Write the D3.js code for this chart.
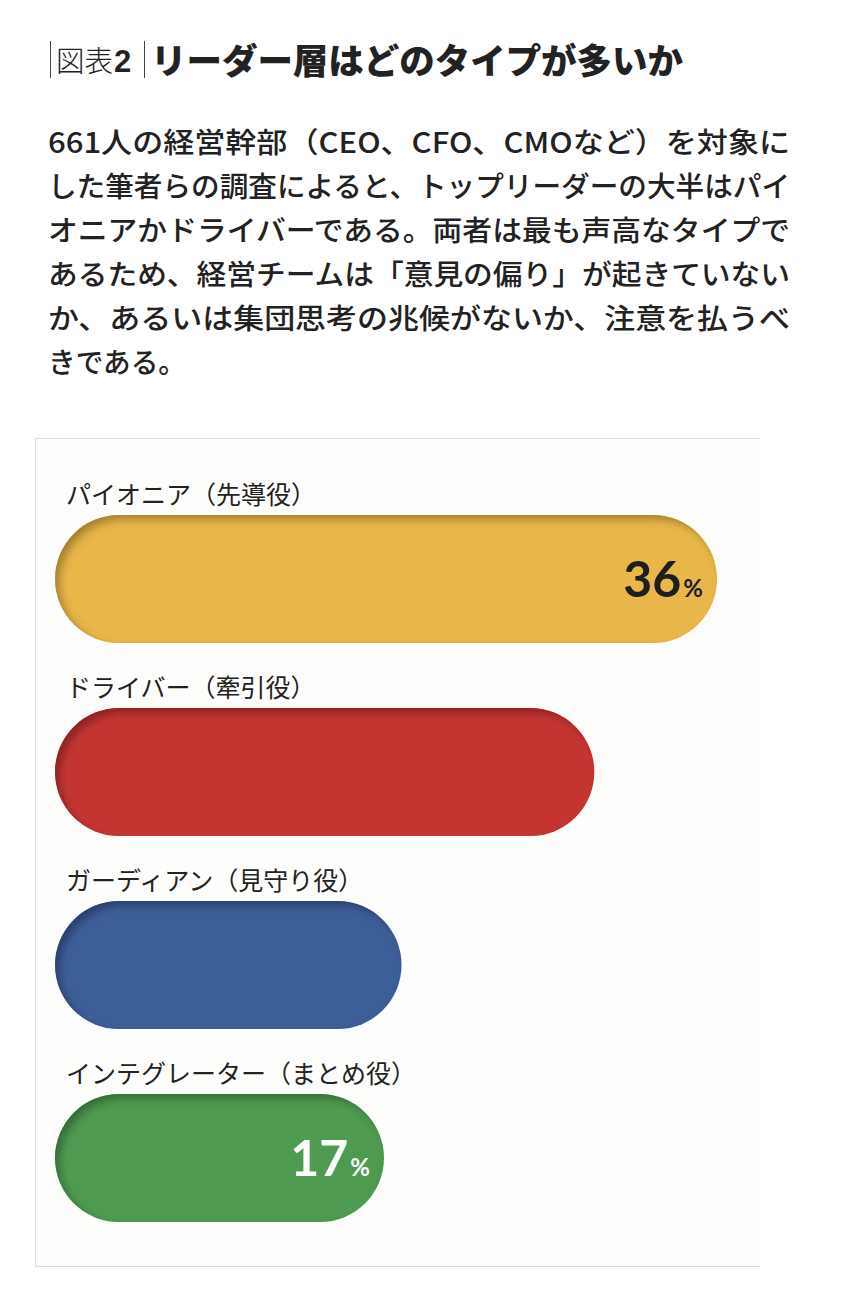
<!doctype html>
<html lang="ja">
  <head>
    <meta charset="utf-8">
    <title>図表2 リーダー層はどのタイプが多いか</title>
    <script src="https://d3js.org/d3.v7.min.js"></script>
    <style>
      body { margin: 0; background: #fff; }
      svg { display: block; }
      text { font-family: "Noto Sans CJK JP", "Noto Sans", sans-serif; fill: #222; }
    </style>
  </head>
  <body>
    <div id="chart"></div>
    <script>

      // data
      const categories = ["パイオニア（先導役）", "ドライバー（牽引役）", "ガーディアン（見守り役）", "インテグレーター（まとめ役）"];
      const values = [36, 29, 18, 17];
      const valueLabels = ["36", null, null, "17"];

      const titleText = "リーダー層はどのタイプが多いか";
      const bodyLines = [
        "661人の経営幹部（CEO、CFO、CMOなど）を対象に",
        "した筆者らの調査によると、トップリーダーの大半はパイ",
        "オニアかドライバーである。両者は最も声高なタイプで",
        "あるため、経営チームは「意見の偏り」が起きていない",
        "か、あるいは集団思考の兆候がないか、注意を払うべ",
        "きである。"
      ];

      const W = 850, H = 1316;
      const svg = d3.select("#chart").append("svg")
        .attr("width", W)
        .attr("height", H);

      // inset shadow for the pills
      const defs = svg.append("defs");
      const f = defs.append("filter").attr("id", "inset")
        .attr("x", "-5%").attr("y", "-10%").attr("width", "110%").attr("height", "120%");
      f.append("feGaussianBlur").attr("in", "SourceAlpha").attr("stdDeviation", 4).attr("result", "blur");
      f.append("feOffset").attr("in", "blur").attr("dx", 5).attr("dy", 5).attr("result", "offBlur");
      f.append("feComposite").attr("in", "SourceAlpha").attr("in2", "offBlur").attr("operator", "out").attr("result", "mask");
      f.append("feFlood").attr("flood-color", "#000").attr("flood-opacity", 0.55).attr("result", "col");
      f.append("feComposite").attr("in", "col").attr("in2", "mask").attr("operator", "in").attr("result", "shadow");
      f.append("feComposite").attr("in", "shadow").attr("in2", "SourceGraphic").attr("operator", "over");

      // title
      const title = svg.append("g");
      title.append("line").attr("x1", 50.5).attr("x2", 50.5).attr("y1", 41).attr("y2", 78)
        .attr("stroke", "#444").attr("stroke-width", 1);
      title.append("text").attr("x", 56).attr("y", 72)
        .attr("font-size", 29).attr("font-weight", 300)
        .attr("textLength", 57).attr("lengthAdjust", "spacingAndGlyphs")
        .text("図表");
      title.append("text").attr("x", 114).attr("y", 72)
        .attr("font-size", 31).attr("font-weight", 700)
        .style("font-family", "'Liberation Sans', Arial, sans-serif")
        .text("2");
      title.append("line").attr("x1", 144.5).attr("x2", 144.5).attr("y1", 41).attr("y2", 78)
        .attr("stroke", "#444").attr("stroke-width", 1);
      title.append("text").attr("x", 151).attr("y", 74)
        .attr("font-size", 35).attr("font-weight", 900)
        .attr("textLength", 532).attr("lengthAdjust", "spacingAndGlyphs")
        .text(titleText);

      // body paragraph, justified lines
      svg.append("g").selectAll("text")
        .data(bodyLines)
        .join("text")
          .attr("x", 48)
          .attr("y", (d, i) => 153 + i * 44)
          .attr("font-size", 28.5)
          .attr("font-weight", 500)
          .attr("textLength", (d, i) => i < bodyLines.length - 1 ? 742 : 138)
          .attr("lengthAdjust", "spacingAndGlyphs")
          .text(d => d);

      // chart panel
      const box = {left: 35, right: 760, top: 438.5, bottom: 1266.5};
      svg.append("rect")
        .attr("x", box.left).attr("y", box.top)
        .attr("width", box.right - box.left).attr("height", box.bottom - box.top)
        .attr("fill", "#fdfdfb");
      svg.append("path")
        .attr("d", `M${box.right},${box.top}H${box.left + 0.5}V${box.bottom}H${box.right}`)
        .attr("fill", "none").attr("stroke", "#dcdcdc").attr("stroke-width", 1);

      // scales
      const barLeft = 55, barH = 128;
      const x = d3.scaleLinear().domain([0, 36]).range([86, 717]);
      const y = d3.scaleBand().domain(categories).range([470, 1242]);
      const color = d3.scaleOrdinal().domain(categories)
        .range(["#e8b649", "#c43533", "#3d5e98", "#4f9a51"]);
      const labelColor = ["#1e1e1e", null, null, "#ffffff"];

      const rows = svg.append("g").selectAll("g")
        .data(categories)
        .join("g")
          .attr("transform", d => `translate(0,${y(d)})`);

      rows.append("text")
        .attr("x", 66)
        .attr("y", 34)
        .attr("font-size", 25)
        .attr("font-weight", 400)
        .text(d => d);

      rows.append("rect")
        .attr("x", barLeft)
        .attr("y", 45)
        .attr("width", (d, i) => x(values[i]) - barLeft)
        .attr("height", barH)
        .attr("rx", 64)
        .attr("ry", 64)
        .attr("fill", d => color(d))
        .attr("filter", "url(#inset)");

      const vl = rows.filter((d, i) => valueLabels[i] !== null)
        .append("text")
          .attr("x", d => x(values[categories.indexOf(d)]) - 14)
          .attr("y", 45 + barH / 2 + 18)
          .attr("text-anchor", "end")
          .style("font-family", "Lato, 'Noto Sans', sans-serif")
          .style("font-weight", 700)
          .style("fill", d => labelColor[categories.indexOf(d)]);
      vl.append("tspan").attr("font-size", 50).text(d => valueLabels[categories.indexOf(d)]);
      vl.append("tspan").attr("font-size", 24).attr("dx", 2).text("%");

    </script>
  </body>
</html>
